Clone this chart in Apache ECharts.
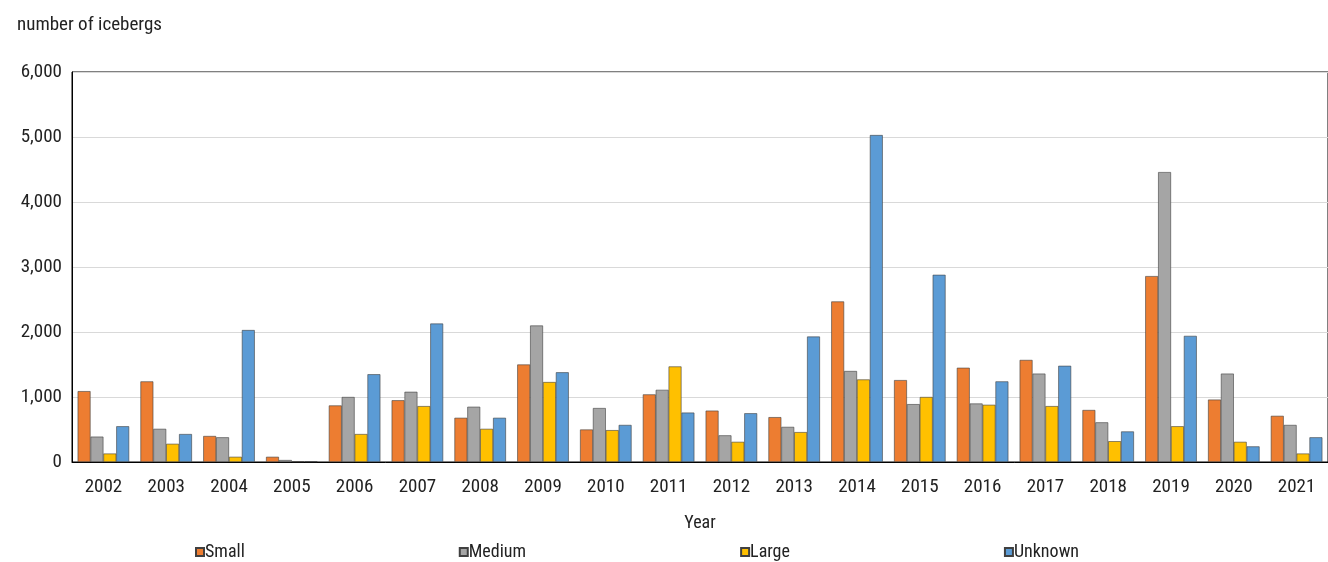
<!DOCTYPE html>
<html><head><meta charset="utf-8">
<script src="https://cdn.jsdelivr.net/npm/echarts@6/dist/echarts.min.js"></script>
<style>html,body{margin:0;padding:0;background:#fff}#chart{width:1328px;height:562px}</style>
</head><body><div id="chart"></div>
<script>
var years = ['2002','2003','2004','2005','2006','2007','2008','2009','2010','2011','2012','2013','2014','2015','2016','2017','2018','2019','2020','2021'];
var small   = [1090,1240,400,80,870,950,680,1500,500,1040,790,690,2470,1260,1450,1570,800,2860,960,710];
var medium  = [390,510,380,30,1000,1080,850,2100,830,1110,410,540,1400,890,900,1360,610,4460,1360,570];
var large   = [130,280,80,10,430,860,510,1230,490,1470,310,460,1270,1000,880,860,320,550,310,130];
var unknown = [550,430,2030,10,1350,2130,680,1380,570,760,750,1930,5030,2880,1240,1480,470,1940,240,380];

var font = '"Roboto Condensed","Liberation Sans Narrow","Roboto",sans-serif';
var chart = echarts.init(document.getElementById('chart'));

function bar(name, data, color) {
  return {
    name: name, type: 'bar', data: data, barGap: '0%', barCategoryGap: '18%',
    itemStyle: { color: color, borderColor: '#404040', borderWidth: 0.6 }
  };
}

chart.setOption({
  textStyle: { fontFamily: font },
  title: { text: 'number of icebergs', left: 12, top: 11,
    textStyle: { fontFamily: font, fontSize: 19, fontWeight: 'normal', color: '#222' } },
  legend: {
    bottom: -4, left: 190, itemGap: 214, itemWidth: 8, itemHeight: 8, icon: 'rect',
    textStyle: { fontFamily: font, fontSize: 18, color: '#222', padding: [0, 0, 0, -4] },
    data: ['Small', 'Medium', 'Large', 'Unknown']
  },
  grid: { left: 72, right: 0, top: 72, bottom: 100, show: true, borderColor: '#000', borderWidth: 1 },
  xAxis: {
    type: 'category', data: years, name: 'Year', nameLocation: 'middle', nameGap: 52,
    nameTextStyle: { fontFamily: font, fontSize: 18, color: '#222' },
    axisLine: { lineStyle: { color: '#000' } }, axisTick: { show: false },
    axisLabel: { fontFamily: font, fontSize: 19, color: '#222', margin: 16 }
  },
  yAxis: {
    type: 'value', min: 0, max: 6000, interval: 1000,
    axisLine: { show: true, lineStyle: { color: '#000' } },
    splitLine: { lineStyle: { color: '#d9d9d9' } },
    axisLabel: { fontFamily: font, fontSize: 19, color: '#222', margin: 10,
      formatter: function (v) { return v.toLocaleString('en-US'); } }
  },
  series: [
    bar('Small', small, '#ED7D31'),
    bar('Medium', medium, '#A5A5A5'),
    bar('Large', large, '#FFC000'),
    bar('Unknown', unknown, '#5B9BD5')
  ]
});
</script></body></html>
